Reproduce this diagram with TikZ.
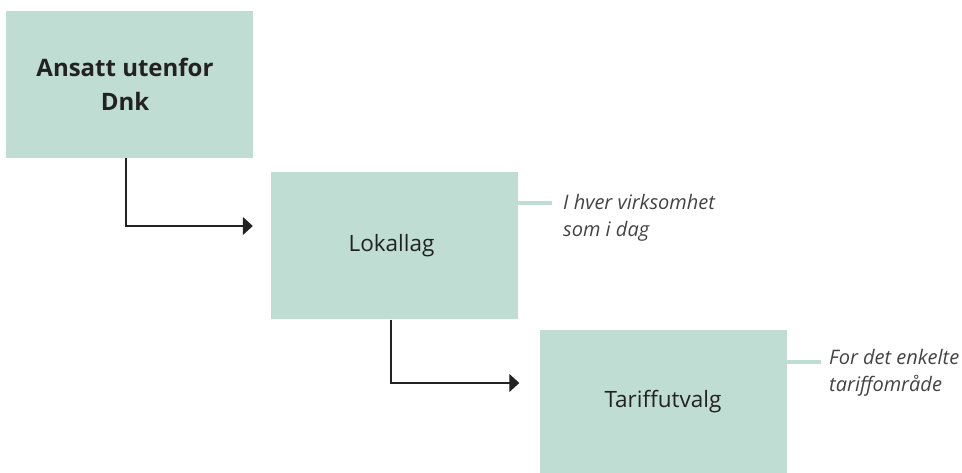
\documentclass[tikz,border=0pt]{standalone}
\usepackage{fontspec}
\setmainfont{Open Sans}
\usetikzlibrary{arrows.meta}
\definecolor{boxfill}{HTML}{C0DDD4}
\definecolor{txt}{HTML}{222222}
\definecolor{note}{HTML}{444444}
\begin{document}
\begin{tikzpicture}[x=1pt,y=-1pt,
  stepbox/.style={fill=boxfill, draw=none, minimum width=247pt, minimum height=147pt, inner sep=0pt, align=center, text=txt, font=\fontsize{22.5pt}{30pt}\selectfont},
  conn/.style={draw=txt, line width=1.1pt, -{Triangle[length=10pt,width=18pt]}, shorten >=18pt},
  tick/.style={draw=boxfill, line width=4pt},
  notetxt/.style={anchor=west, align=left, text=note, font=\itshape\fontsize{20pt}{27pt}\selectfont, inner sep=0pt}]
\useasboundingbox (0,0) rectangle (962,473);
\node[stepbox, font=\bfseries\fontsize{24pt}{34pt}\selectfont] (a) at (129.5,84.5) {\hspace*{-9pt}Ansatt utenfor\\\hspace*{-9pt}Dnk};
\node[stepbox] (b) at (394.5,246) {\hspace*{-6pt}Lokallag};
\node[stepbox, minimum height=143pt] (c) at (663,401.5) {Tariffutvalg};
\coordinate (ac) at (126,226);
\coordinate (bc) at (391,383);
\draw[conn] (a.south -| ac) -- (ac) -- (ac -| b.west);
\draw[conn, shorten >=20pt] (b.south -| bc) -- (bc) -- (bc -| c.west);
\coordinate (t1) at (552,203);
\coordinate (t2) at (821,362);
\draw[tick] (t1 -| b.east) -- (t1);
\draw[tick] (t2 -| c.east) -- (t2);
\node[notetxt] (n1) at (563,218) {I hver virksomhet\\som i dag};
\node[notetxt] (n2) at (829,373) {For det enkelte\\tariffområde};
\end{tikzpicture}
\end{document}
